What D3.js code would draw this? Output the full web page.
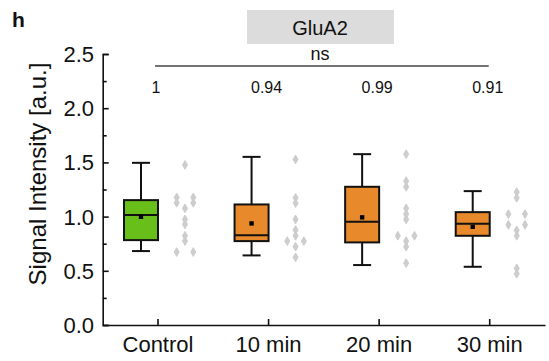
<!DOCTYPE html>
<html>
<head>
<meta charset="utf-8">
<script src="https://cdn.jsdelivr.net/npm/d3@7"></script>
<style>
  body { margin: 0; background: #fff; }
  text { font-family: "Liberation Sans", Arial, sans-serif; fill: #111; }
</style>
</head>
<body>
<div class="chart"></div>
<script>
const groups = ['Control', '10 min', '20 min', '30 min'];
const fills = ['#69bf19', '#e88a2c', '#e88a2c', '#e88a2c'];
// box stats: [lower whisker, q1, median, q3, upper whisker]
const boxStats = [
  [0.682, 0.783, 1.014, 1.152, 1.496],
  [0.642, 0.774, 0.827, 1.112, 1.551],
  [0.553, 0.762, 0.952, 1.275, 1.576],
  [0.537, 0.823, 0.934, 1.041, 1.235]
];
const means = [0.998, 0.937, 0.993, 0.906];
const points = [
  [1.477, 1.177, 1.177, 1.127, 1.127, 1.076, 0.974, 0.928, 0.823, 0.774, 0.673, 0.673],
  [1.527, 1.173, 1.124, 0.974, 0.876, 0.823, 0.774, 0.774, 0.722, 0.624],
  [1.576, 1.327, 1.275, 1.076, 1.023, 0.974, 0.823, 0.823, 0.774, 0.722, 0.571],
  [1.226, 1.173, 1.023, 1.023, 0.924, 0.924, 0.873, 0.823, 0.523, 0.473]
];
const pValues = ['1', '0.94', '0.99', '0.91'];
const yTicks = [0, 0.5, 1.0, 1.5, 2.0, 2.5];
const yMinor = [0.25, 0.75, 1.25, 1.75, 2.25];

const svg = d3.select('.chart')
  .append('svg')
    .attr('width', 549)
    .attr('height', 361);

const x = d3.scaleBand()
  .domain(groups)
  .range([102.7, 545]);

const y = d3.scaleLinear()
  .domain([0, 2.5])
  .range([325, 54]);

const cx = (g) => x(g) + x.bandwidth() / 2;

// panel letter
svg.append('text')
  .attr('x', 12)
  .attr('y', 27)
  .style('font-size', '21px')
  .style('font-weight', 'bold')
  .text('h');

// title box
svg.append('rect')
  .attr('x', 247)
  .attr('y', 10)
  .attr('width', 147)
  .attr('height', 34)
  .attr('fill', '#dcdcdc');

svg.append('text')
  .attr('x', 320)
  .attr('y', 35)
  .attr('text-anchor', 'middle')
  .style('font-size', '20px')
  .text('GluA2');

svg.append('text')
  .attr('x', 320)
  .attr('y', 60)
  .attr('text-anchor', 'middle')
  .style('font-size', '18px')
  .text('ns');

svg.append('line')
  .attr('x1', cx(groups[0]) - 3)
  .attr('x2', cx(groups[3]) - 1)
  .attr('y1', 66)
  .attr('y2', 66)
  .attr('stroke', '#444')
  .attr('stroke-width', 1.5);

svg.selectAll('.pval')
  .data(groups)
  .enter()
  .append('text')
    .attr('class', 'pval')
    .attr('x', (d) => cx(d) - 2)
    .attr('y', 93)
    .attr('text-anchor', 'middle')
    .style('font-size', '16px')
    .text((d, i) => pValues[i]);

// axes
const yAxis = svg.append('g')
  .attr('transform', `translate(${x.range()[0]},0)`)
  .call(d3.axisRight(y).tickValues(yTicks).tickSize(6).tickFormat(''));
yAxis.append('g')
  .call(d3.axisRight(y).tickValues(yMinor).tickSize(4).tickFormat(''))
  .select('.domain').remove();
yAxis.selectAll('path, line')
  .attr('stroke', '#111')
  .attr('stroke-width', 1.6);

svg.selectAll('.ylab')
  .data(yTicks)
  .enter()
  .append('text')
    .attr('class', 'ylab')
    .attr('x', 94)
    .attr('y', (d) => y(d))
    .attr('dy', '0.36em')
    .attr('text-anchor', 'end')
    .style('font-size', '22px')
    .text((d) => d.toFixed(1));

const xAxis = svg.append('g')
  .attr('transform', `translate(0,${y(0)})`)
  .call(d3.axisTop(x).tickSize(6).tickSizeOuter(0).tickFormat(''));
xAxis.selectAll('path, line')
  .attr('stroke', '#111')
  .attr('stroke-width', 1.6);

svg.selectAll('.xlab')
  .data(groups)
  .enter()
  .append('text')
    .attr('class', 'xlab')
    .attr('x', (d) => cx(d))
    .attr('y', 352)
    .attr('text-anchor', 'middle')
    .style('font-size', '22px')
    .text((d) => d);

svg.append('text')
  .attr('transform', 'translate(46,174) rotate(-90)')
  .attr('text-anchor', 'middle')
  .style('font-size', '24px')
  .text('Signal Intensity [a.u.]');

// boxes
const boxW = 34, capW = 18, boxShift = -17, dotShift = 27, pairGap = 8.3;

const box = svg.selectAll('.box')
  .data(groups)
  .enter()
  .append('g')
    .attr('class', 'box')
    .attr('transform', (d) => `translate(${cx(d) + boxShift},0)`);

box.append('line')
  .attr('y1', (d, i) => y(boxStats[i][0]))
  .attr('y2', (d, i) => y(boxStats[i][4]))
  .attr('stroke', '#111')
  .attr('stroke-width', 2);

box.selectAll('.cap')
  .data((d, i) => [boxStats[i][0], boxStats[i][4]])
  .enter()
  .append('line')
    .attr('x1', -capW / 2)
    .attr('x2', capW / 2)
    .attr('y1', (v) => y(v))
    .attr('y2', (v) => y(v))
    .attr('stroke', '#111')
    .attr('stroke-width', 2);

box.append('rect')
  .attr('x', -boxW / 2)
  .attr('width', boxW)
  .attr('y', (d, i) => y(boxStats[i][3]))
  .attr('height', (d, i) => y(boxStats[i][1]) - y(boxStats[i][3]))
  .attr('fill', (d, i) => fills[i])
  .attr('stroke', '#111')
  .attr('stroke-width', 2);

box.append('line')
  .attr('x1', -boxW / 2)
  .attr('x2', boxW / 2)
  .attr('y1', (d, i) => y(boxStats[i][2]))
  .attr('y2', (d, i) => y(boxStats[i][2]))
  .attr('stroke', '#111')
  .attr('stroke-width', 2);

box.append('rect')
  .attr('x', -2.2)
  .attr('width', 4.4)
  .attr('y', (d, i) => y(means[i]) - 2.2)
  .attr('height', 4.4)
  .attr('fill', '#000');

// raw points, equal values side by side
groups.forEach((g, i) => {
  const counts = d3.rollup(points[i], (v) => v.length, (v) => v);
  const seen = new Map();
  const placed = points[i].map((v) => {
    const n = counts.get(v);
    const k = seen.get(v) || 0;
    seen.set(v, k + 1);
    const off = n > 1 ? (k - (n - 1) / 2) * 2 * pairGap : 0;
    return { v, off };
  });
  svg.selectAll(`.dot${i}`)
    .data(placed)
    .enter()
    .append('path')
      .attr('class', `dot${i}`)
      .attr('d', d3.symbol(d3.symbolDiamond, 22))
      .attr('transform', (d) => `translate(${cx(g) + dotShift + d.off},${y(d.v)})`)
      .attr('fill', '#cdcdcd')
      .attr('stroke', '#cdcdcd')
      .attr('stroke-width', 1)
      .attr('stroke-linejoin', 'round');
});
</script>
</body>
</html>
